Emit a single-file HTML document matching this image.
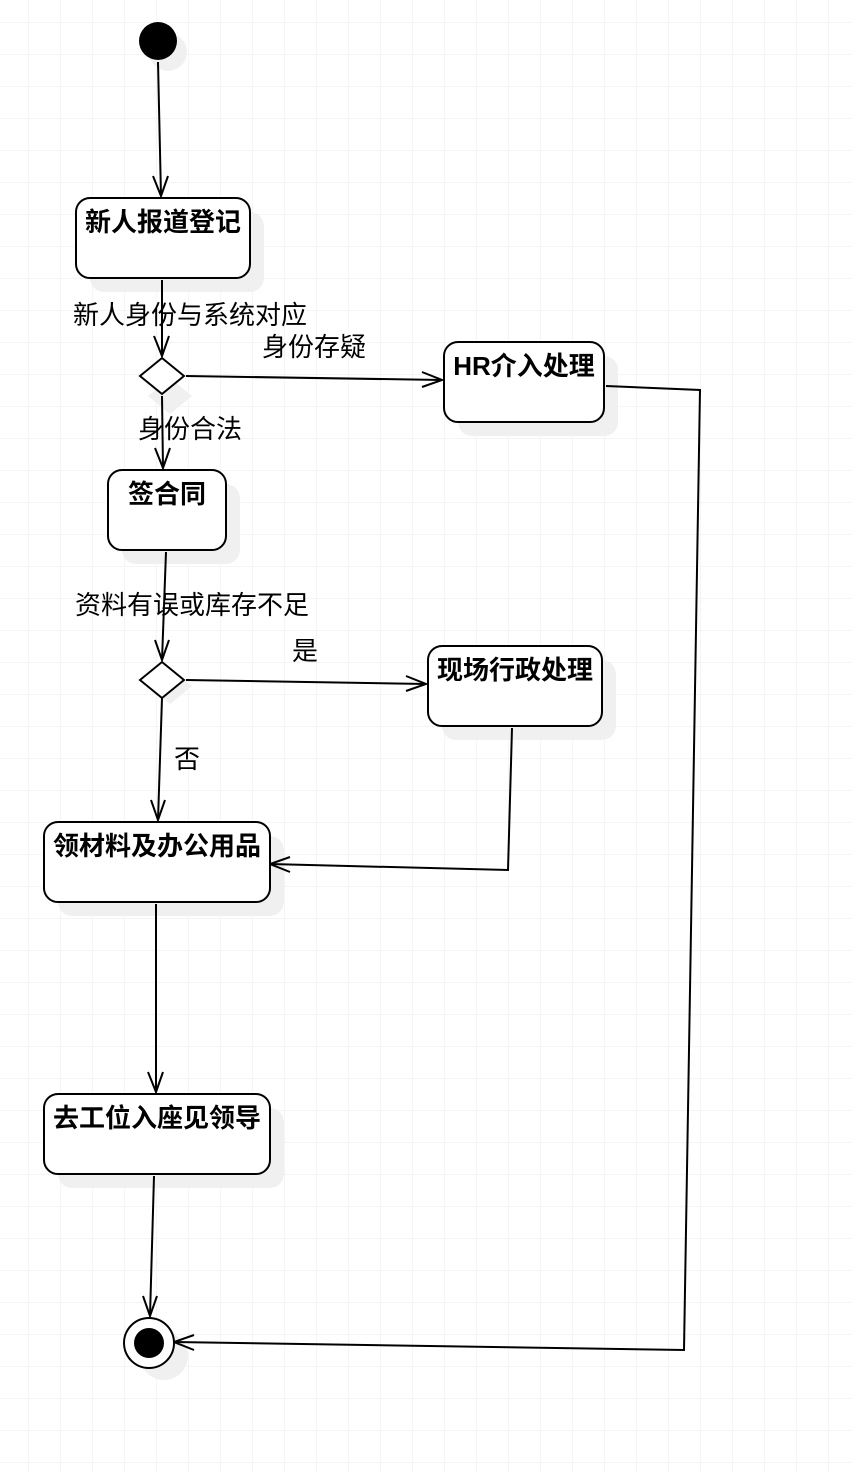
<!DOCTYPE html>
<html><head><meta charset="utf-8"><style>
html,body{margin:0;padding:0;background:#fff}
svg{display:block}
text{font-family:"Liberation Sans","Noto Sans CJK SC",sans-serif}
</style></head><body>
<svg width="852" height="1472" viewBox="0 0 852 1472" xmlns="http://www.w3.org/2000/svg">
<defs>
<pattern id="g" x="28" y="22" width="32" height="32" patternUnits="userSpaceOnUse">
<path d="M0 0H32M0 0V32" stroke="#ebebeb" stroke-width="1" fill="none"/>
</pattern>
</defs>
<rect width="852" height="1472" fill="url(#g)"/>
<g fill="#f0f0f0">
<circle cx="168" cy="52" r="19"/>
<rect x="90" y="212" width="174" height="80" rx="14"/>
<path d="M162 372 L184 390 L162 408 L140 390Z" transform="translate(8,6)"/>
<rect x="458" y="356" width="160" height="80" rx="14"/>
<rect x="122" y="484" width="118" height="80" rx="14"/>
<path d="M162 662 L184 680 L162 698 L140 680Z" transform="translate(8,6)"/>
<rect x="442" y="660" width="174" height="80" rx="14"/>
<rect x="58" y="836" width="226" height="80" rx="14"/>
<rect x="58" y="1108" width="226" height="80" rx="14"/>
<circle cx="164" cy="1356" r="24"/>
</g>
<g fill="none" stroke="#000" stroke-width="2">
<path d="M158 62 L161 196"/><path d="M153 176 L161 196 L168 176"/>
<path d="M162 280 L162 356"/><path d="M154 336 L162 356 L169 336"/>
<path d="M186 376 L442 380"/><path d="M422 372 L442 380 L422 387"/>
<path d="M162 396 L163 468"/><path d="M155 448 L163 468 L170 448"/>
<path d="M606 386 L700 390 L684 1350 L174 1342"/><path d="M194 1335 L174 1342 L194 1350"/>
<path d="M166 552 L162 660"/><path d="M155 640 L162 660 L169 640"/>
<path d="M186 680 L426 684"/><path d="M406 676 L426 684 L406 691"/>
<path d="M162 698 L158 820"/><path d="M151 800 L158 820 L165 800"/>
<path d="M512 728 L508 870 L270 864"/><path d="M290 857 L270 864 L290 872"/>
<path d="M156 904 L156 1092"/><path d="M148 1072 L156 1092 L163 1072"/>
<path d="M154 1176 L150 1316"/><path d="M143 1296 L150 1316 L157 1296"/>
</g>
<circle cx="158" cy="41" r="19" fill="#000"/>
<g fill="#fff" stroke="#000" stroke-width="2">
<rect x="76" y="198" width="174" height="80" rx="14"/>
<path d="M162 358 L184 376 L162 394 L140 376Z"/>
<rect x="444" y="342" width="160" height="80" rx="14"/>
<rect x="108" y="470" width="118" height="80" rx="14"/>
<path d="M162 662 L184 680 L162 698 L140 680Z"/>
<rect x="428" y="646" width="174" height="80" rx="14"/>
<rect x="44" y="822" width="226" height="80" rx="14"/>
<rect x="44" y="1094" width="226" height="80" rx="14"/>
<circle cx="149" cy="1343" r="25"/>
</g>
<circle cx="149" cy="1343" r="15" fill="#000"/>
<g font-size="26" font-weight="bold" text-anchor="middle" fill="#000">
<text x="163" y="231">新人报道登记</text>
<text x="524" y="375">HR介入处理</text>
<text x="167" y="503">签合同</text>
<text x="515" y="679">现场行政处理</text>
<text x="157" y="855">领材料及办公用品</text>
<text x="157" y="1127">去工位入座见领导</text>
</g>
<g font-size="26" fill="#000">
<text x="73" y="324">新人身份与系统对应</text>
<text x="262" y="356">身份存疑</text>
<text x="138" y="438">身份合法</text>
<text x="75" y="614">资料有误或库存不足</text>
<text x="292" y="660">是</text>
<text x="174" y="768">否</text>
</g>
</svg>
</body></html>
